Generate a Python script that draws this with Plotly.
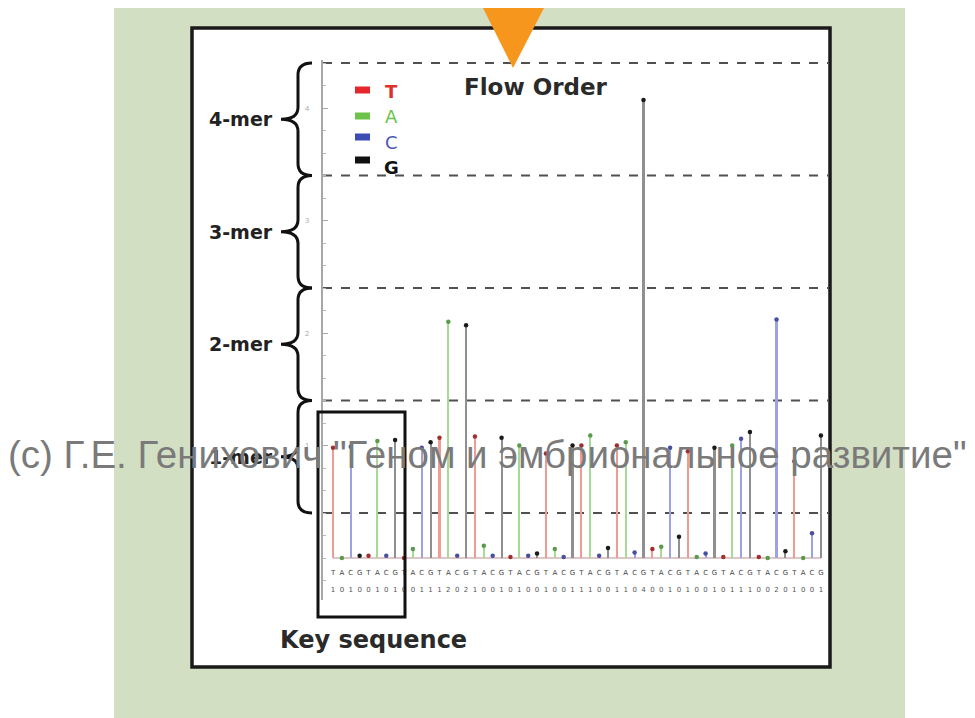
import plotly.graph_objects as go

# ---------------- data ----------------
flow_order = list("TACG" * 14)
flow_index = list(range(1, 57))
signal = [
    0.98, 0.00, 0.99, 0.02, 0.02, 1.04, 0.02, 1.05,
    0.00, 0.08, 0.98, 1.03, 1.07, 2.10, 0.02, 2.07,
    1.08, 0.11, 0.02, 1.07, 0.01, 1.00, 0.02, 0.04,
    0.93, 0.08, 0.01, 1.00, 1.00, 1.09, 0.02, 0.09,
    1.00, 1.03, 0.05, 4.07, 0.08, 0.10, 0.98, 0.19,
    0.95, 0.01, 0.04, 0.98, 0.01, 1.00, 1.06, 1.12,
    0.01, 0.00, 2.12, 0.06, 0.86, 0.00, 0.22, 1.09,
]
called = [str(int(round(v))) for v in signal]
mer_labels = ["1-mer", "2-mer", "3-mer", "4-mer"]
mer_bounds = [0.4, 1.4, 2.4, 3.4, 4.4]
legend_bases = ["T", "A", "C", "G"]
y_ticks = [1, 2, 3, 4]

stem_colors = {"T": "#f29a94", "A": "#a6da95", "C": "#9da2e2", "G": "#8f8f8f"}
dot_colors = {"T": "#a03030", "A": "#5a9a4a", "C": "#4a50a0", "G": "#1a1a1a"}
legend_sq = {"T": "#e5262b", "A": "#6cc24a", "C": "#3b4cb5", "G": "#111111"}
legend_txt = {"T": "#e0302a", "A": "#6cc24a", "C": "#4a56b8", "G": "#111111"}

# ---------------- geometry (screen pixels) ----------------
OFF = 8                      # page body margin
W, H = 975 - OFF, 718 - OFF  # figure size
L, R, T, B = 323, 828, 60, 600  # plot area in screen pixels


def px(x):
    return (x - L) / (R - L)


def py(y):
    return (B - y) / (B - T)


def ypix(v):
    return 558 - v * 112.5


fig = go.Figure()

fig.add_trace(go.Bar(
    x=flow_index, y=signal, width=0.24,
    marker=dict(color=[stem_colors[b] for b in flow_order], line=dict(width=0)),
    showlegend=False, hoverinfo="skip",
))
fig.add_trace(go.Scatter(
    x=flow_index, y=signal, mode="markers",
    marker=dict(size=4.5, color=[dot_colors[b] for b in flow_order]),
    showlegend=False, hoverinfo="skip",
))
fig.add_trace(go.Scatter(
    x=flow_index, y=[-0.133] * len(flow_index), mode="text",
    text=flow_order, textfont=dict(size=7, color="#444", family="DejaVu Sans"),
    showlegend=False, hoverinfo="skip",
))
fig.add_trace(go.Scatter(
    x=flow_index, y=[-0.284] * len(flow_index), mode="text",
    text=called, textfont=dict(size=7, color="#555", family="DejaVu Sans"),
    showlegend=False, hoverinfo="skip",
))

shapes = []
# green panel
shapes.append(dict(type="rect", xref="paper", yref="paper",
                   x0=px(114), x1=px(905), y0=py(6), y1=py(720),
                   fillcolor="#d3dfc3", line=dict(width=0), layer="below"))
# white framed box
shapes.append(dict(type="rect", xref="paper", yref="paper",
                   x0=px(192), x1=px(830), y0=py(28), y1=py(667),
                   fillcolor="white", line=dict(color="#1a1a1a", width=3.5), layer="below"))
# dashed mer boundaries
for yb in mer_bounds:
    shapes.append(dict(type="line", xref="paper", yref="y", x0=0, x1=1, y0=yb, y1=yb,
                       line=dict(color="#505050", width=2, dash="dash"), layer="below"))
# baseline
shapes.append(dict(type="line", xref="x", yref="y", x0=flow_index[0], x1=flow_index[-1],
                   y0=0, y1=0, line=dict(color="#d6b4b4", width=1.5), layer="below"))


def brace(top, bot):
    mid = (top + bot) / 2
    xe, xs, xt, r = 312, 298, 281, 12
    pts = [
        f"M {px(xe)},{py(top)}",
        f"Q {px(xs)},{py(top)} {px(xs)},{py(top + r)}",
        f"L {px(xs)},{py(mid - r)}",
        f"Q {px(xs)},{py(mid)} {px(xt)},{py(mid)}",
        f"Q {px(xs)},{py(mid)} {px(xs)},{py(mid + r)}",
        f"L {px(xs)},{py(bot - r)}",
        f"Q {px(xs)},{py(bot)} {px(xe)},{py(bot)}",
    ]
    return " ".join(pts)


annotations = []
for i, lab in enumerate(mer_labels):
    top = ypix(mer_bounds[i + 1])
    bot = ypix(mer_bounds[i])
    shapes.append(dict(type="path", xref="paper", yref="paper", path=brace(top, bot),
                       line=dict(color="#111111", width=3)))
    annotations.append(dict(xref="paper", yref="paper", x=px(275), y=py((top + bot) / 2),
                            xanchor="right", yanchor="middle", showarrow=False,
                            text=f"<b>{lab}</b>",
                            font=dict(family="DejaVu Sans", size=19, color="#222")))

# legend
leg_sq_y = [90, 116, 137, 160]
leg_tx_y = [91, 117, 142, 167]
for b, ys, yt in zip(legend_bases, leg_sq_y, leg_tx_y):
    shapes.append(dict(type="rect", xref="paper", yref="paper",
                       x0=px(355), x1=px(370), y0=py(ys - 3.5), y1=py(ys + 3.5),
                       fillcolor=legend_sq[b], line=dict(width=0)))
    txt = f"<b>{b}</b>" if b in ("T", "G") else b
    annotations.append(dict(xref="paper", yref="paper", x=px(391), y=py(yt),
                            xanchor="center", yanchor="middle", showarrow=False, text=txt,
                            font=dict(family="DejaVu Sans", size=18, color=legend_txt[b])))

# key sequence box
shapes.append(dict(type="rect", xref="paper", yref="paper",
                   x0=px(318), x1=px(405), y0=py(412), y1=py(617),
                   line=dict(color="#111111", width=3), fillcolor="rgba(0,0,0,0)"))
# orange triangle
shapes.append(dict(type="path", xref="paper", yref="paper",
                   path=f"M {px(482)},{py(6)} L {px(545)},{py(6)} L {px(513)},{py(68)} Z",
                   fillcolor="#f7961d", line=dict(width=0), layer="above"))

annotations.append(dict(xref="paper", yref="paper", x=px(536), y=py(87),
                        xanchor="center", yanchor="middle", showarrow=False,
                        text="<b>Flow Order</b>",
                        font=dict(family="DejaVu Sans", size=23, color="#2a2a2a")))
annotations.append(dict(xref="paper", yref="paper", x=px(373), y=py(640),
                        xanchor="center", yanchor="middle", showarrow=False,
                        text="<b>Key sequence</b>",
                        font=dict(family="DejaVu Sans", size=24, color="#2a2a2a")))
annotations.append(dict(xref="paper", yref="paper", x=px(487), y=py(455),
                        xanchor="center", yanchor="middle", showarrow=False,
                        text='(c) Г.Е. Генихович "Геном и эмбриональное развитие"',
                        font=dict(family="Liberation Sans", size=38.5, color="#7a7a7a")))

fig.update_layout(
    width=W, height=H, autosize=False,
    margin=dict(l=L - OFF, r=W - (R - OFF), t=T - OFF, b=H - (B - OFF), pad=0),
    paper_bgcolor="white", plot_bgcolor="rgba(0,0,0,0)",
    shapes=shapes, annotations=annotations, showlegend=False,
    bargap=0,
)
fig.update_xaxes(range=[-0.13, 56.8], visible=False, showgrid=False, zeroline=False)
fig.update_yaxes(
    range=[(558 - B) / 112.5, (558 - T) / 112.5],
    showgrid=False, zeroline=False, showline=True, linecolor="#a8a8a8", linewidth=2,
    tickvals=y_ticks, ticktext=[str(v) for v in y_ticks],
    ticks="inside", ticklen=5, tickcolor="#a8a8a8", tickwidth=1,
    tickfont=dict(size=8, color="#aaaaaa"), ticklabelstandoff=10,
    minor=dict(dtick=0.2, tick0=0, ticks="inside", ticklen=3, tickcolor="#b8b8b8"),
)

fig.write_html("out.html")
